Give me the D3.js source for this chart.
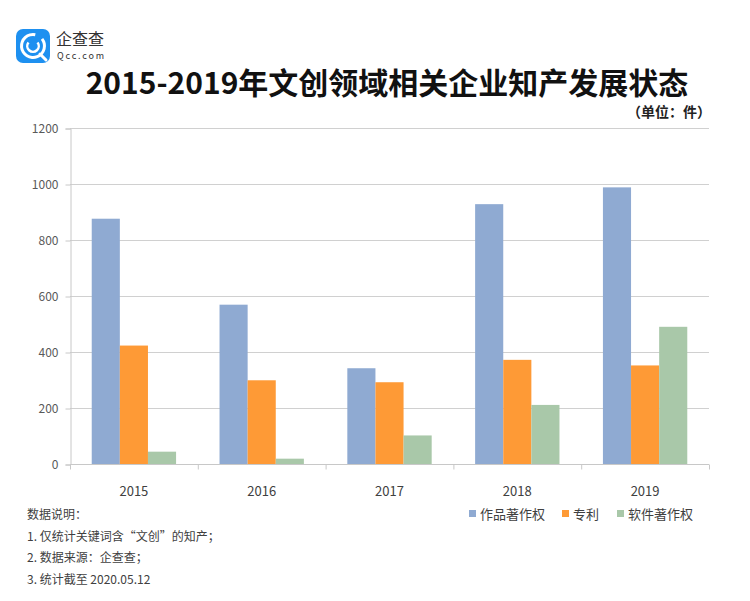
<!DOCTYPE html>
<html><head><meta charset="utf-8">
<script src="https://cdn.jsdelivr.net/npm/d3@7/dist/d3.min.js"></script>
<style>
body{margin:0;background:#fff;}
text{font-family:"Noto Sans CJK SC","Noto Sans",sans-serif;}
</style></head>
<body><svg id="c" width="750" height="601"></svg>
<script>
const categories = ["2015","2016","2017","2018","2019"];
const seriesNames = ["作品著作权","专利","软件著作权"];
const worksCopyright = [876, 569, 342, 928, 988];
const patents = [423, 299, 292, 372, 352];
const softwareCopyright = [44, 19, 102, 211, 490];
const yTicks = [0,200,400,600,800,1000,1200];
const notes = ["数据说明：","1. 仅统计关键词含“文创”的知产；","2. 数据来源：企查查；","3. 统计截至 2020.05.12"];
const colors = ["#8faad2","#fe9a36","#a9c8a9"];

const svg = d3.select("#c");
const series = [worksCopyright, patents, softwareCopyright];

const x = d3.scaleBand().domain(categories).range([70,709]).paddingInner(0.34).paddingOuter(0.17);
const x0 = d3.scaleBand().domain(categories).range([70,709]);
const xs = d3.scaleBand().domain(d3.range(3)).range([0,x.bandwidth()]);
const y = d3.scaleLinear().domain([0,1200]).range([464,128]);

// gridlines
svg.append("g").selectAll("line").data(yTicks.filter(d=>d>0)).join("line")
  .attr("x1",70).attr("x2",709).attr("y1",d=>y(d)+0.5).attr("y2",d=>y(d)+0.5)
  .attr("stroke","#d0d0d0").attr("stroke-width",1.2);

// y axis
const yAxis = d3.axisLeft(y).tickValues(yTicks).tickSize(5).tickPadding(7).tickFormat(d3.format("d"));
const gy = svg.append("g").attr("transform","translate(70.5,0.5)").call(yAxis);
gy.select(".domain").attr("stroke","#c8c8c8");
gy.selectAll(".tick line").attr("stroke","#c8c8c8");
gy.selectAll("text").attr("font-size",12).attr("fill","#595959").attr("font-family","Liberation Sans Narrow, Liberation Sans, sans-serif");

// bars
categories.forEach((c,i)=>{
  svg.append("g").selectAll("rect").data(series.map((s,k)=>({k,v:s[i]}))).join("rect")
    .attr("x",d=>x(c)+xs(d.k)).attr("width",xs.bandwidth())
    .attr("y",d=>y(d.v)).attr("height",d=>y(0)-y(d.v))
    .attr("fill",d=>colors[d.k]);
});

// x axis
const gx = svg.append("g").attr("transform","translate(0,464.5)");
gx.append("line").attr("x1",70).attr("x2",709).attr("stroke","#c8c8c8").attr("stroke-width",1.2);
gx.selectAll("line.t").data(d3.range(6)).join("line").attr("class","t")
  .attr("x1",i=>i<5?x0(categories[i])+0.5:709.5).attr("x2",i=>i<5?x0(categories[i])+0.5:709.5)
  .attr("y1",0).attr("y2",5).attr("stroke","#c8c8c8");
gx.selectAll("text").data(categories).join("text")
  .attr("x",d=>x0(d)+x0.bandwidth()/2).attr("y",31)
  .attr("text-anchor","middle").attr("font-size",13).attr("fill","#404040")
  .attr("font-family","Liberation Sans Narrow, Liberation Sans, sans-serif").text(d=>d);

// legend
const legX = [469, 562, 617];
seriesNames.forEach((n,k)=>{
  svg.append("rect").attr("x",legX[k]).attr("y",510).attr("width",7).attr("height",7).attr("fill",colors[k]);
  svg.append("text").attr("x",legX[k]+11).attr("y",519).attr("font-size",13).attr("fill","#404040").text(n);
});

// notes
notes.forEach((t,i)=>{
  svg.append("text").attr("x",27).attr("y",519+i*21.5).attr("font-size",12).attr("fill","#404040").text(t);
});

// title
svg.append("text").attr("x",387).attr("y",94).attr("text-anchor","middle")
  .attr("font-size",30).attr("font-weight","bold").attr("fill","#111").text("2015-2019年文创领域相关企业知产发展状态");
svg.append("text").attr("x",711).attr("y",117).attr("text-anchor","end")
  .attr("font-size",14).attr("font-weight","bold").attr("fill","#222").text("（单位：件）");

// logo
const lg = svg.append("g");
lg.append("rect").attr("x",16).attr("y",29).attr("width",34).attr("height",34).attr("rx",7).attr("fill","#1e90f0");
lg.append("path").attr("d",d3.arc()({innerRadius:10,outerRadius:13,startAngle:0.9,endAngle:2*Math.PI+0.2})).attr("transform","translate(33,46)").attr("fill","#fff");
lg.append("path").attr("d",d3.arc()({innerRadius:4.5,outerRadius:7,startAngle:0.9,endAngle:2*Math.PI-0.9})).attr("transform","translate(33,46)").attr("fill","#fff");
lg.append("line").attr("x1",40).attr("y1",54).attr("x2",46).attr("y2",60).attr("stroke","#fff").attr("stroke-width",3).attr("stroke-linecap","round");
lg.append("text").attr("x",56).attr("y",45).attr("font-size",16).attr("fill","#333").text("企查查");
lg.append("text").attr("x",57).attr("y",59).attr("font-size",9).attr("fill","#333").attr("letter-spacing",1.8).text("Qcc.com");
</script></body></html>
